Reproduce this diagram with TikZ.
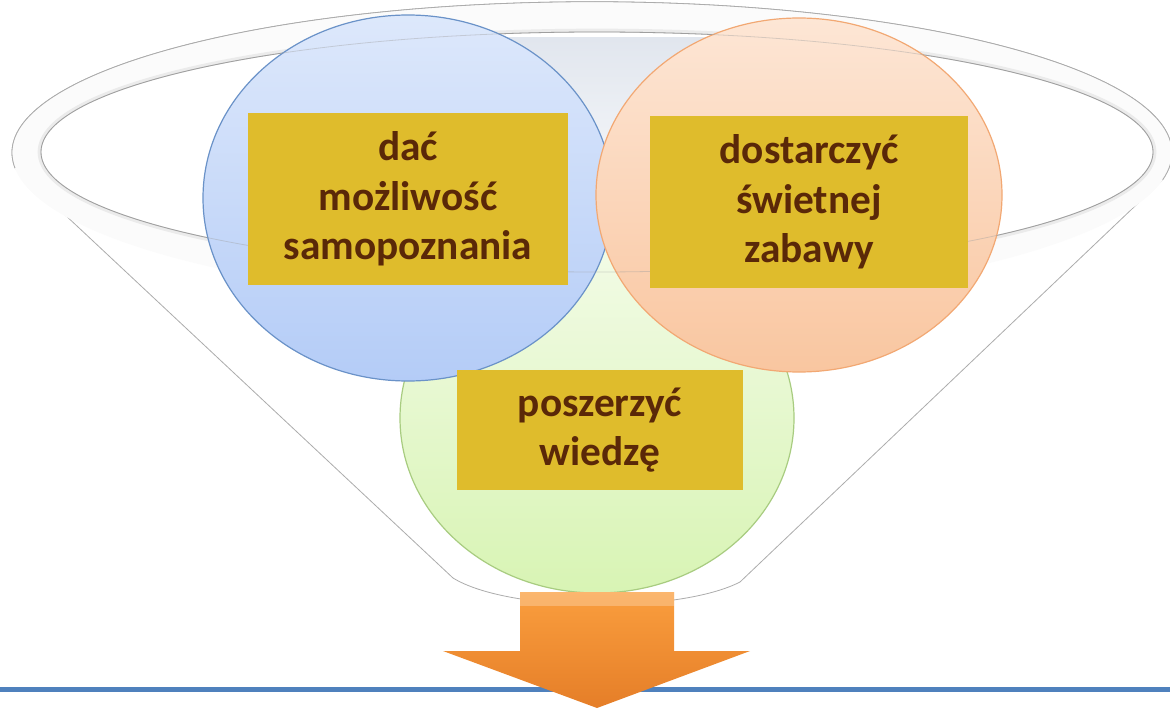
\documentclass[tikz,border=0pt]{standalone}
\usepackage{fontspec}
\setmainfont{Carlito}
\usetikzlibrary{shapes.geometric}
\definecolor{goldbox}{HTML}{DFBC2C}
\definecolor{goaltext}{HTML}{5A2808}
\definecolor{bluetop}{HTML}{DDE8FB}
\definecolor{bluebot}{HTML}{B4CCF7}
\definecolor{blueedge}{HTML}{6A92C8}
\definecolor{peachtop}{HTML}{FDE6D5}
\definecolor{peachbot}{HTML}{F9C6A0}
\definecolor{peachedge}{HTML}{F2A873}
\definecolor{greentop}{HTML}{F2FBE6}
\definecolor{greenbot}{HTML}{D8F4B4}
\definecolor{greenedge}{HTML}{A8CC80}
\definecolor{arrowtop}{HTML}{FA9E3E}
\definecolor{arrowbot}{HTML}{E57E28}
\definecolor{groundline}{HTML}{4F81BD}
\definecolor{funnelback}{HTML}{E1E6EE}

\begin{document}
\begin{tikzpicture}[x=0.75pt,y=-0.75pt,
  bubble/.style={ellipse,draw,line width=0.9pt,inner sep=0pt},
  goal/.style={fill=goldbox,text=goaltext,align=center,inner sep=0pt,
    font=\fontsize{31}{37}\selectfont\bfseries}]
  \useasboundingbox (0,0) rectangle (1170,710);

  \draw[gray!65,fill=white,line width=0.6pt] (15,168)
    arc[start angle=174.2,end angle=370.3,x radius=580,y radius=151]
    -- (740,582) .. controls (680,613) and (510,613) .. (453,578) -- cycle;
  \fill[gray!3] (592,153) ellipse[x radius=580,y radius=151];
  \draw[gray!65,line width=0.6pt] (15,168)
    arc[start angle=174.2,end angle=370.3,x radius=580,y radius=151];
  \draw[gray!16,line width=5pt] (597,152) ellipse[x radius=556,y radius=120];
  \draw[gray!75,fill=white,line width=0.6pt] (597,152) ellipse[x radius=556,y radius=120];
  \begin{scope}
    \clip (597,152) ellipse[x radius=556,y radius=120];
    \shade[top color=funnelback,bottom color=white] (480,38) rectangle (730,250);
  \end{scope}

  \node[bubble,draw=greenedge,top color=greentop,bottom color=greenbot,
    minimum width=295.5pt,minimum height=262.5pt] (greenball) at (597,418) {};
  \node[bubble,draw=blueedge,top color=bluetop,bottom color=bluebot,
    minimum width=307.5pt,minimum height=274.5pt] (blueball) at (408,198) {};
  \node[bubble,draw=peachedge,top color=peachtop,bottom color=peachbot,
    minimum width=304.5pt,minimum height=265.5pt] (peachball) at (799,195) {};
  \draw[gray!75,opacity=0.4,line width=0.6pt] (597,152) ellipse[x radius=556,y radius=120];

  \node[goal,minimum width=240pt,minimum height=129pt] (samopoznanie) at (408,199)
    {dać\\możliwość\\samopoznania};
  \node[goal,minimum width=238.5pt,minimum height=129pt] (zabawa) at (809,202)
    {dostarczyć\\świetnej\\zabawy};
  \node[goal,minimum width=215pt,minimum height=90pt] (wiedza) at (600,430)
    {poszerzyć\\wiedzę};

  \draw[groundline,line width=3.75pt] (0,689) -- (1170,689);
  \shade[top color=arrowtop,bottom color=arrowbot] (520,592) -- (674,592)
    -- (674,651) -- (750,651) -- (597,708) -- (443,651) -- (520,651) -- cycle;
  \fill[white,opacity=0.25] (520,592) rectangle (674,606);
\end{tikzpicture}
\end{document}
